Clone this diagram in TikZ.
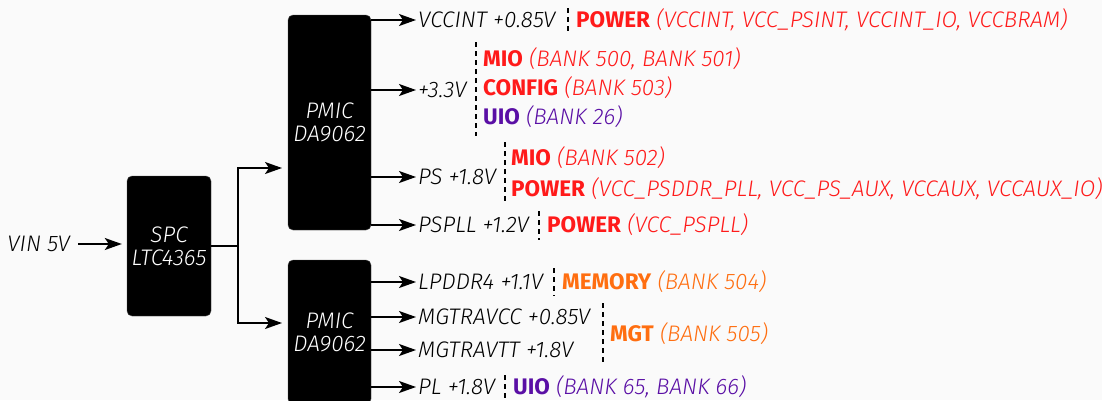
\documentclass[tikz,border=0pt]{standalone}
\usepackage{fontspec}
\setmainfont{Fira Sans}[UprightFont=* Light, ItalicFont=* Light Italic, BoldFont=* Bold, BoldItalicFont=* Bold Italic]
\usetikzlibrary{arrows.meta,positioning}

\definecolor{pwrred}{HTML}{FF1A1A}
\definecolor{memorange}{HTML}{FF6E10}
\definecolor{uiopurple}{HTML}{5A0FA5}
\definecolor{bggray}{HTML}{FAFAFA}

\newcommand{\banktxt}[3]{\textcolor{#1}{\textup{\textbf{#2}} (#3)}}

\tikzset{
  chip/.style={fill=black, draw=black!70, rounded corners=5pt, inner sep=0pt, text=white, align=center},
  rail/.style={anchor=west, inner sep=2pt, text height=15.5pt, text depth=0pt},
  bank/.style={anchor=west, inner sep=0pt, text height=15.5pt, text depth=0pt},
  feed/.style={line width=1.6pt, -{Stealth[length=17pt,width=12pt,inset=4pt]}},
  wire/.style={line width=1.6pt},
  sep/.style={line width=1.4pt, dash pattern=on 5pt off 4pt},
}

\begin{document}
\begin{tikzpicture}[x=1pt, y=-1pt, font=\fontsize{22.5}{23}\selectfont\itshape]
  \fill[bggray] (0,0) rectangle (1102,400);
  \useasboundingbox (0,0) rectangle (1102,400);

  % Blocs
  \node[chip, minimum width=84pt, minimum height=140pt] (spc) at (169,246) {SPC\\LTC4365};
  \node[chip, minimum width=83pt, minimum height=215pt] (pmicA) at (329.5,122.5) {PMIC\\DA9062};
  \node[chip, minimum width=83pt, minimum height=144pt] (pmicB) at (329.5,332) {PMIC\\DA9062};

  % Entree
  \node[anchor=east, inner sep=3pt, text height=15.5pt, text depth=0pt] (vin) at (73,244) {VIN 5V};
  \draw[feed, shorten <=5pt, shorten >=5pt] (vin.east) -- (vin.east -| spc.west);

  % Distribution vers les PMIC
  \coordinate (fork) at (238,246);
  \coordinate (inA) at (282,168);
  \coordinate (inB) at (282,323);
  \draw[wire] (spc.east) -- (fork);
  \draw[feed] (fork) |- (inA);
  \draw[feed] (fork) |- (inB);

  % Rails du premier PMIC
  \node[rail] (vccint) at (416,20) {VCCINT +0.85V};
  \node[rail] (vthree) at (416,90) {+3.3V};
  \node[rail] (ps) at (416,177) {PS +1.8V};
  \node[rail] (pspll) at (416,225) {PSPLL +1.2V};
  \foreach \r in {vccint,vthree,ps,pspll}
    \draw[feed] (pmicA.east |- \r.west) -- (\r.west);

  % Rails du second PMIC
  \node[rail] (lpddr) at (416,282) {LPDDR4 +1.1V};
  \node[rail] (mgtvcc) at (416,317) {MGTRAVCC +0.85V};
  \node[rail] (mgtvtt) at (416,350) {MGTRAVTT +1.8V};
  \node[rail] (pl) at (416,387) {PL +1.8V};
  \foreach \r in {lpddr,mgtvcc,mgtvtt,pl}
    \draw[feed] (pmicB.east |- \r.west) -- (\r.west);

  % Separateurs
  \draw[sep] (568,8) -- (568,33);
  \draw[sep] (476,42) -- (476,136);
  \draw[sep] (505,142) -- (505,202);
  \draw[sep] (539,211) -- (539,240);
  \draw[sep] (554,268) -- (554,296);
  \draw[sep] (603,303) -- (603,365);
  \draw[sep] (505,375) -- (505,402);

  % Banques
  \node[bank] (pwrA) at (576,20) {\banktxt{pwrred}{POWER}{VCCINT, VCC\_PSINT, VCCINT\_IO, VCCBRAM}};
  \node[bank] (mioA) at (483,59) {\banktxt{pwrred}{MIO}{BANK 500, BANK 501}};
  \node[bank] (cfg) at (483,88) {\banktxt{pwrred}{CONFIG}{BANK 503}};
  \node[bank] (uioA) at (483,117) {\banktxt{uiopurple}{UIO}{BANK 26}};
  \node[bank] (mioB) at (511,158) {\banktxt{pwrred}{MIO}{BANK 502}};
  \node[bank] (pwrB) at (511,189) {\banktxt{pwrred}{POWER}{VCC\_PSDDR\_PLL, VCC\_PS\_AUX, VCCAUX, VCCAUX\_IO}};
  \node[bank] (pwrC) at (547,225) {\banktxt{pwrred}{POWER}{VCC\_PSPLL}};
  \node[bank] (mem) at (562,282) {\banktxt{memorange}{MEMORY}{BANK 504}};
  \node[bank] (mgt) at (610,334) {\banktxt{memorange}{MGT}{BANK 505}};
  \node[bank] (uioB) at (513,387) {\banktxt{uiopurple}{UIO}{BANK 65, BANK 66}};
\end{tikzpicture}
\end{document}
